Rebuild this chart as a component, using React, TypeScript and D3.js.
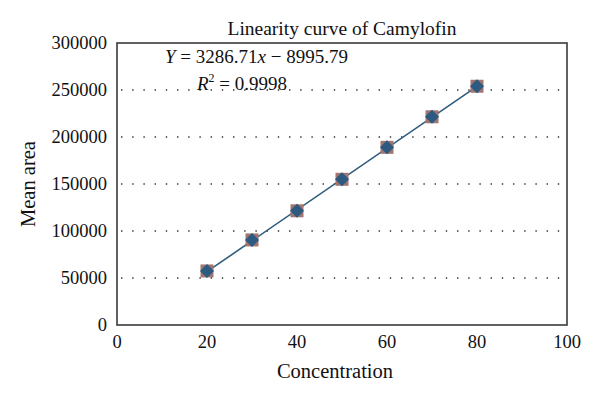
import React from "react";
import * as d3 from "d3";

const concentrations = [20, 30, 40, 50, 60, 70, 80];
const meanAreas = [57500, 90500, 121500, 155000, 189000, 221500, 254000];
const xTicks = [0, 20, 40, 60, 80, 100];
const yTicks = [0, 50000, 100000, 150000, 200000, 250000, 300000];
const slope = 3286.71;
const intercept = -8995.79;
const title = "Linearity curve of Camylofin";
const xTitle = "Concentration";
const yTitle = "Mean area";

const W = 600;
const H = 399;
const left = 117;
const right = 567;
const top = 43;
const bottom = 325;
const FONT = "'Liberation Serif', 'DejaVu Serif', serif";

export default function App() {
  const x = d3.scaleLinear().domain([0, 100]).range([left, right]);
  const y = d3.scaleLinear().domain([0, 300000]).range([bottom, top]);
  const fitLine = d3
    .line<number>()
    .x((d) => x(d))
    .y((d) => y(slope * d + intercept));
  const xs = [concentrations[0], concentrations[concentrations.length - 1]];

  return (
    <svg
      width={W}
      height={H}
      style={{ position: "absolute", left: 0, top: 0, background: "#fff" }}
      fontFamily={FONT}
    >
      <rect x={0} y={0} width={W} height={H} fill="#fff" />
      {/* gridlines */}
      {yTicks
        .filter((t) => t > 0 && t < 300000)
        .map((t) => (
          <line
            key={t}
            x1={left + 4}
            x2={right}
            y1={y(t)}
            y2={y(t)}
            stroke="#333"
            strokeWidth={1.6}
            strokeDasharray="1.4 9.8"
          />
        ))}
      {/* frame */}
      <rect
        x={left}
        y={top}
        width={right - left}
        height={bottom - top}
        fill="none"
        stroke="#3a3a3a"
        strokeWidth={1.6}
      />
      {/* y tick labels */}
      {yTicks.map((t) => (
        <text
          key={t}
          x={left - 10}
          y={y(t)}
          dy="0.35em"
          textAnchor="end"
          fontSize={18.5}
          fill="#111"
        >
          {t}
        </text>
      ))}
      {/* x tick labels */}
      {xTicks.map((t) => (
        <text
          key={t}
          x={x(t)}
          y={348}
          textAnchor="middle"
          fontSize={18.5}
          fill="#111"
        >
          {t}
        </text>
      ))}
      {/* fit line */}
      <path d={fitLine(xs) || ""} fill="none" stroke="#2f5c7d" strokeWidth={1.6} />
      {/* markers */}
      {concentrations.map((c, i) => {
        const cx = x(c);
        const cy = y(meanAreas[i]);
        const s = 13;
        const dm = 7;
        return (
          <g key={c}>
            <rect x={cx - s / 2} y={cy - s / 2} width={s} height={s} fill="#a27570" />
            <path
              d={`M${cx},${cy - dm}L${cx + dm},${cy}L${cx},${cy + dm}L${cx - dm},${cy}Z`}
              fill="#2c5a80"
            />
          </g>
        );
      })}
      {/* title */}
      <text x={342} y={35} textAnchor="middle" fontSize={19.5} fill="#111">
        {title}
      </text>
      {/* equation */}
      <text x={165} y={63} fontSize={19} fill="#111">
        <tspan fontStyle="italic">Y</tspan>
        <tspan> = 3286.71</tspan>
        <tspan fontStyle="italic">x</tspan>
        <tspan> − 8995.79</tspan>
      </text>
      <text x={197} y={90} fontSize={19} fill="#111">
        <tspan fontStyle="italic">R</tspan>
        <tspan fontSize={12} dy={-8}>2</tspan>
        <tspan dy={8}> = 0.9998</tspan>
      </text>
      {/* axis titles */}
      <text x={335} y={378} textAnchor="middle" fontSize={20.5} fill="#111">
        {xTitle}
      </text>
      <text
        transform={`translate(35, 184) rotate(-90)`}
        textAnchor="middle"
        fontSize={20.5}
        fill="#111"
      >
        {yTitle}
      </text>
    </svg>
  );
}
